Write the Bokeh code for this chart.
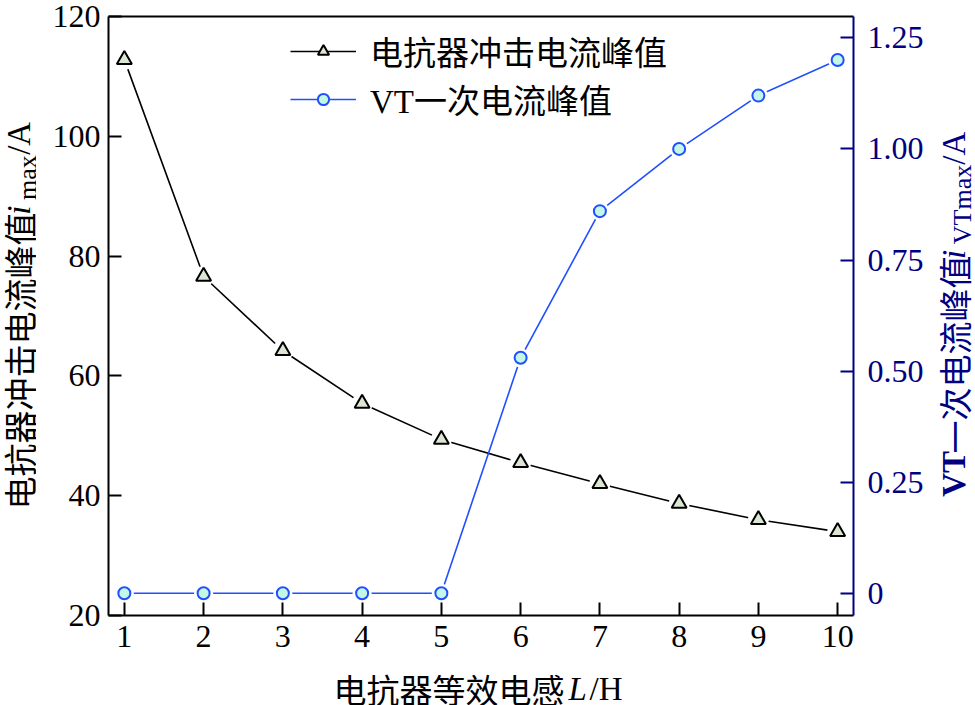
import math
from bokeh.plotting import figure
from bokeh.layouts import row, column
from bokeh.models import (Range1d, LinearAxis, FixedTicker, Legend, LegendItem, Label)
from bokeh.embed import file_html
from bokeh.resources import INLINE

# ---- data ----
inductance = [1, 2, 3, 4, 5, 6, 7, 8, 9, 10]
reactor_peak = [112.8, 76.6, 64.2, 55.4, 49.4, 45.5, 42.0, 38.7, 36.0, 34.0]
vt_peak = [0, 0, 0, 0, 0, 0.53, 0.86, 1.00, 1.12, 1.20]
x_ticks = [1, 2, 3, 4, 5, 6, 7, 8, 9, 10]
left_ticks = [20, 40, 60, 80, 100, 120]
right_ticks = [0, 0.25, 0.5, 0.75, 1.0, 1.25]
right_tick_labels = ["0", "0.25", "0.50", "0.75", "1.00", "1.25"]
legend_labels = ["电抗器冲击电流峰值", "VT一次电流峰值"]

NAVY = "#000080"
BLUE = "#1f4fff"
SERIF = "Liberation Serif"
MIXED = "'Liberation Serif', 'Noto Sans CJK SC'"
CJK = "Noto Sans CJK SC"

LEFT_W = 36
MAIN_W = 896
RIGHT_W = 975 - LEFT_W - MAIN_W
TOP_H = 665
BOT_H = 705 - TOP_H

p = figure(frame_width=745, frame_height=599, output_backend="svg", toolbar_location=None,
           x_range=Range1d(0.8, 10.2), y_range=Range1d(20, 120), title=None,
           min_border_left=72, min_border_right=79, min_border_top=16,
           min_border_bottom=50, x_axis_location=None, y_axis_location=None)
p.extra_y_ranges = {"r": Range1d(-0.05, 1.298)}
p.grid.visible = False
p.outline_line_color = None


def style_axis(ax, color="black", size="32px"):
    ax.axis_line_color = color
    ax.axis_line_width = 2
    ax.major_tick_line_color = color
    ax.major_tick_line_width = 2
    ax.major_tick_in = 13
    ax.major_tick_out = 0
    ax.minor_tick_line_color = None
    ax.major_label_text_font = SERIF
    ax.major_label_text_font_size = size
    ax.major_label_text_color = color


xax = LinearAxis(ticker=FixedTicker(ticks=x_ticks))
style_axis(xax)
xax.major_label_standoff = 10
p.add_layout(xax, "below")

yax = LinearAxis(ticker=FixedTicker(ticks=left_ticks))
style_axis(yax)
yax.major_label_standoff = 8
p.add_layout(yax, "left")

rax = LinearAxis(y_range_name="r", ticker=FixedTicker(ticks=right_ticks))
style_axis(rax, NAVY)
rax.major_label_overrides = {t: s for t, s in zip(right_ticks, right_tick_labels)}
rax.major_label_standoff = 14
p.add_layout(rax, "right")

tax = LinearAxis(ticker=FixedTicker(ticks=[]))
tax.axis_line_color = "black"
tax.axis_line_width = 2
tax.major_tick_line_color = None
tax.minor_tick_line_color = None
tax.major_label_text_font_size = "0px"
tax.major_label_standoff = 0
p.add_layout(tax, "above")

l1 = p.line(inductance, reactor_peak, line_color="black", line_width=1.6)
p.scatter(inductance, reactor_peak, marker="circle", size=21, fill_color="white",
          line_color=None)
m1 = p.scatter(inductance, reactor_peak, marker="triangle", size=15,
               fill_color="#dde6d3", line_color="black", line_width=2)

l2 = p.line(inductance, vt_peak, line_color=BLUE, line_width=1.6, y_range_name="r")
p.scatter(inductance, vt_peak, marker="circle", size=19, fill_color="white",
          line_color=None, y_range_name="r")
m2 = p.scatter(inductance, vt_peak, marker="circle", size=12, fill_color="#c4f7e6",
               line_color=BLUE, line_width=2, y_range_name="r")

legend = Legend(items=[LegendItem(label=legend_labels[0], renderers=[l1, m1]),
                       LegendItem(label=legend_labels[1], renderers=[l2, m2])],
                location=(182, 492), orientation="vertical")
legend.label_text_font = MIXED
legend.label_text_font_size = "33px"
legend.label_text_color = "black"
legend.glyph_width = 66
legend.glyph_height = 28
legend.label_height = 28
legend.spacing = 0
legend.label_standoff = 14
legend.padding = 0
legend.margin = 0
legend.border_line_color = None
legend.background_fill_alpha = 0
p.add_layout(legend, "center")


def strip(w, h):
    f = figure(width=w, height=h, output_backend="svg", toolbar_location=None,
               x_range=Range1d(0, w), y_range=Range1d(0, h), title=None,
               min_border=0, min_border_left=0, min_border_right=0,
               min_border_top=0, min_border_bottom=0,
               x_axis_location=None, y_axis_location=None)
    f.grid.visible = False
    f.outline_line_color = None
    return f


left_fig = strip(LEFT_W, TOP_H)
right_fig = strip(RIGHT_W, TOP_H)
bottom_fig = strip(975, BOT_H)

# the tall strips' frames were measured to span canvas y 11.25 .. 621
S_TOP, S_SCALE = 11.25, 0.9167


def tall_y(cy):
    return TOP_H - (cy - S_TOP) / S_SCALE


def piece(f, x, y, text, font, size, color="black", style="normal", angle=0.0):
    f.add_layout(Label(x=x, y=y, text=text, text_font=font,
                       text_font_size=size, text_font_style=style, text_color=color,
                       angle=angle, text_align="left", text_baseline="middle"))


up = math.pi / 2
# left title, bottom to top
piece(left_fig, 18, tall_y(513), "电抗器冲击电流峰值", CJK, "33px", angle=up)
piece(left_fig, 18, tall_y(213), "i", SERIF, "33px", style="italic", angle=up)
piece(left_fig, 27, tall_y(198), "max", SERIF, "26px", angle=up)
piece(left_fig, 18, tall_y(152), "/A", SERIF, "33px", angle=up)

# right title
RX0 = LEFT_W + MAIN_W
piece(right_fig, 953 - RX0, tall_y(500), "VT", SERIF, "33px", color=NAVY, style="bold", angle=up)
piece(right_fig, 953 - RX0, tall_y(456), "一次电流峰值", CJK, "33px", color=NAVY, angle=up)
piece(right_fig, 953 - RX0, tall_y(258), "i", SERIF, "33px", color=NAVY, style="italic", angle=up)
piece(right_fig, 962 - RX0, tall_y(243), "VTmax", SERIF, "26px", color=NAVY, angle=up)
piece(right_fig, 953 - RX0, tall_y(162), "/A", SERIF, "33px", color=NAVY, angle=up)

# x title
piece(bottom_fig, 333, BOT_H - (688 - TOP_H), "电抗器等效电感", CJK, "33px")
piece(bottom_fig, 568, BOT_H - (688 - TOP_H), "L", SERIF, "33px", style="italic")
piece(bottom_fig, 589, BOT_H - (688 - TOP_H), "/H", SERIF, "33px")

layout = column(row(left_fig, p, right_fig, spacing=0), bottom_fig, spacing=0)
open("out.html", "w").write(file_html(layout, INLINE))
